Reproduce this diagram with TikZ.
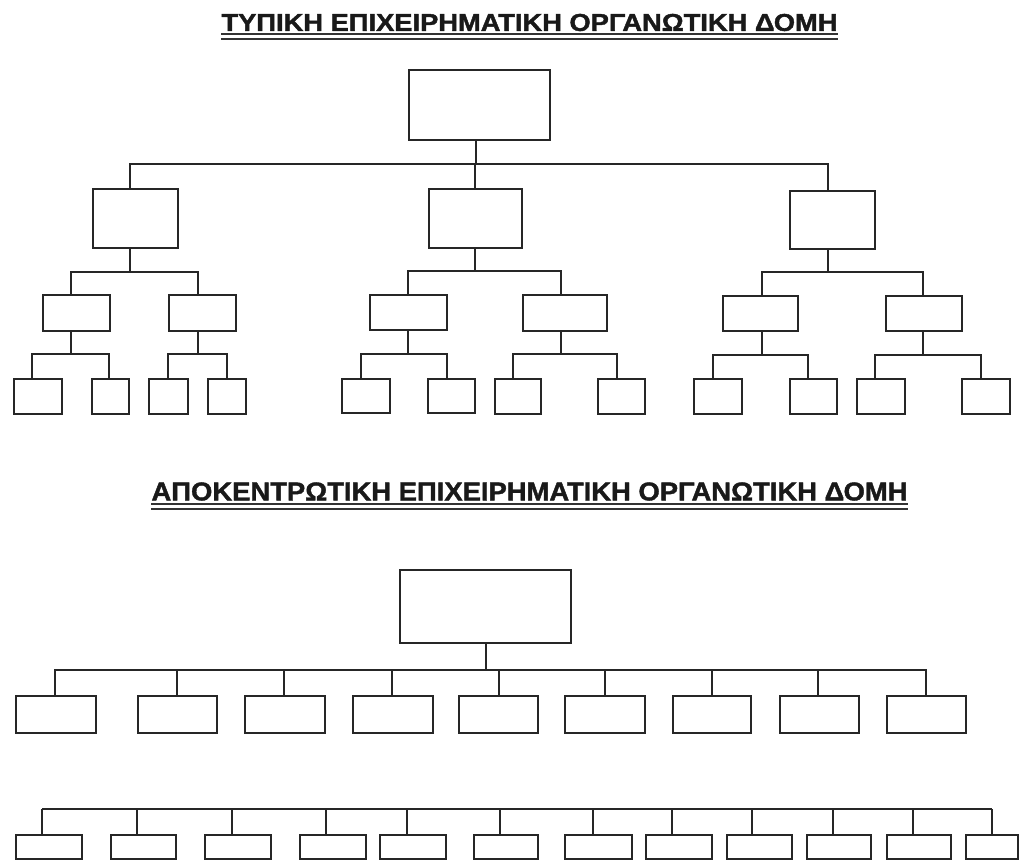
\documentclass[tikz,border=0pt]{standalone}
\usepackage{graphicx}
\usepackage{fontspec}
\setmainfont{Liberation Sans}
\newfontfamily\ttlfont[FakeBold=1.5]{Liberation Sans Bold}
\tikzset{
  bx/.style={draw=black!85, line width=2.2pt, rectangle, inner sep=0pt, outer sep=0pt, fill=white},
  ln/.style={draw=black!85, line width=1.6pt},
  ul/.style={draw=black!80, line width=2pt},
  ttl/.style={inner sep=0pt, outer sep=0pt, text=black!90}
}
% box from corners (name, x1, y1, x2, y2), y measured downward
\newcommand\bx[5]{\node[bx, minimum width={(#4-#2-2.2)*1pt}, minimum height={(#5-#3-2.2)*1pt}] (#1) at ({(#2+#4)/2},{(#3+#5)/2}) {};}
% connector: parent, parent x, bus y, child, child x
\newcommand\cn[5]{\draw[ln] (#1.south -| #2,0) -- (#2,#3) -| (#5,0 |- #4.north);}
% connector from a bare bus coordinate to a child
\newcommand\cb[3]{\draw[ln] (#1,0 |- #2) -- (#1,0 |- #3.north);}
\begin{document}
\begin{tikzpicture}[x=1pt,y=-1pt]
\useasboundingbox (0,0) rectangle (1020,862);

% ---------- Titles ----------
\node[ttl] (t1) at (529.5,22.5) {\resizebox{616pt}{17pt}{\ttlfont ΤΥΠΙΚΗ ΕΠΙΧΕΙΡΗΜΑΤΙΚΗ ΟΡΓΑΝΩΤΙΚΗ ΔΟΜΗ}};
\draw[ul] (221,34) -- (838,34);
\draw[ul, line width=2.6pt] (221,38.8) -- (838,38.8);

\node[ttl] (t2) at (529.5,491.5) {\resizebox{756pt}{18pt}{\ttlfont ΑΠΟΚΕΝΤΡΩΤΙΚΗ ΕΠΙΧΕΙΡΗΜΑΤΙΚΗ ΟΡΓΑΝΩΤΙΚΗ ΔΟΜΗ}};
\draw[ul] (151,504) -- (908,504);
\draw[ul, line width=2.6pt] (151,509) -- (908,509);

% ---------- Chart 1 ----------
\bx{T}{408}{69}{551}{141}
\bx{A}{92}{188}{179}{249}
\bx{B}{428}{188}{523}{249}
\bx{C}{789}{190}{876}{250}

\bx{Aa}{42}{294}{111}{332}
\bx{Ab}{168}{294}{237}{332}
\bx{Ba}{369}{294}{448}{331}
\bx{Bb}{522}{294}{608}{332}
\bx{Ca}{722}{295}{799}{332}
\bx{Cb}{885}{295}{963}{332}

\bx{Aa1}{13}{378}{63}{415}
\bx{Aa2}{91}{378}{130}{415}
\bx{Ab1}{148}{378}{189}{415}
\bx{Ab2}{207}{378}{247}{415}
\bx{Ba1}{341}{378}{391}{414}
\bx{Ba2}{427}{378}{476}{414}
\bx{Bb1}{494}{378}{542}{415}
\bx{Bb2}{597}{378}{646}{415}
\bx{Ca1}{693}{378}{743}{415}
\bx{Ca2}{789}{378}{838}{415}
\bx{Cb1}{856}{378}{906}{415}
\bx{Cb2}{961}{378}{1011}{415}

\cn{T}{476}{164}{A}{130}
\cn{T}{476}{164}{B}{475}
\cn{T}{476}{164}{C}{828}

\cn{A}{130}{272}{Aa}{71}
\cn{A}{130}{272}{Ab}{198}
\cn{B}{475}{271}{Ba}{408}
\cn{B}{475}{271}{Bb}{561}
\cn{C}{828}{272}{Ca}{762}
\cn{C}{828}{272}{Cb}{923}

\cn{Aa}{71}{354}{Aa1}{32}
\cn{Aa}{71}{354}{Aa2}{109}
\cn{Ab}{198}{354}{Ab1}{168}
\cn{Ab}{198}{354}{Ab2}{227}
\cn{Ba}{408}{354}{Ba1}{361}
\cn{Ba}{408}{354}{Ba2}{447}
\cn{Bb}{561}{354}{Bb1}{513}
\cn{Bb}{561}{354}{Bb2}{617}
\cn{Ca}{762}{355}{Ca1}{713}
\cn{Ca}{762}{355}{Ca2}{808}
\cn{Cb}{923}{355}{Cb1}{875}
\cn{Cb}{923}{355}{Cb2}{981}

% ---------- Chart 2 ----------
\bx{R}{399}{569}{572}{644}

\bx{R1}{15}{695}{97}{734}
\bx{R2}{137}{695}{218}{734}
\bx{R3}{244}{695}{326}{734}
\bx{R4}{352}{695}{434}{734}
\bx{R5}{458}{695}{539}{734}
\bx{R6}{564}{695}{646}{734}
\bx{R7}{672}{695}{752}{734}
\bx{R8}{779}{695}{860}{734}
\bx{R9}{886}{695}{967}{734}

\cn{R}{486}{670}{R1}{55}
\cn{R}{486}{670}{R2}{177}
\cn{R}{486}{670}{R3}{284}
\cn{R}{486}{670}{R4}{392}
\cn{R}{486}{670}{R5}{499}
\cn{R}{486}{670}{R6}{605}
\cn{R}{486}{670}{R7}{712}
\cn{R}{486}{670}{R8}{818}
\cn{R}{486}{670}{R9}{926}

\bx{S1}{15}{834}{83}{860}
\bx{S2}{110}{834}{177}{860}
\bx{S3}{204}{834}{272}{860}
\bx{S4}{299}{834}{367}{860}
\bx{S5}{379}{834}{447}{860}
\bx{S6}{473}{834}{539}{860}
\bx{S7}{564}{834}{633}{860}
\bx{S8}{645}{834}{713}{860}
\bx{S9}{726}{834}{793}{860}
\bx{S10}{806}{834}{872}{860}
\bx{S11}{886}{834}{952}{860}
\bx{S12}{965}{834}{1019}{860}

\coordinate (busL) at (42,809);
\coordinate (busR) at (992,809);
\draw[ln] (busL) -- (busR);
\cb{42}{busL}{S1}
\cb{137}{busL}{S2}
\cb{232}{busL}{S3}
\cb{326}{busL}{S4}
\cb{407}{busL}{S5}
\cb{500}{busL}{S6}
\cb{593}{busL}{S7}
\cb{672}{busL}{S8}
\cb{752}{busL}{S9}
\cb{833}{busL}{S10}
\cb{913}{busL}{S11}
\cb{992}{busL}{S12}
\end{tikzpicture}
\end{document}
